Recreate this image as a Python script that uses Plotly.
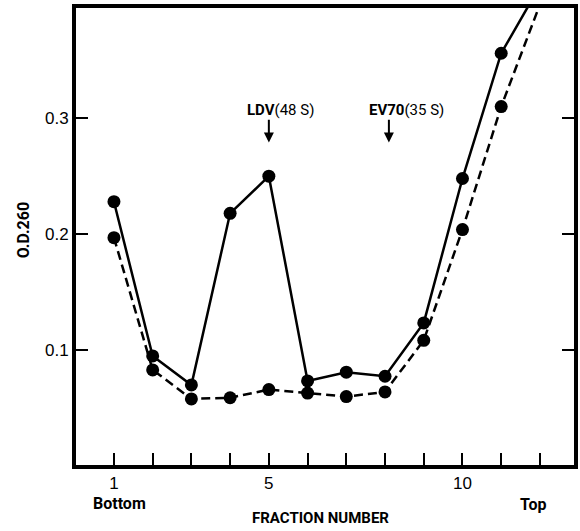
import plotly.graph_objects as go

fractions = [1, 2, 3, 4, 5, 6, 7, 8, 9, 10, 11, 12]
od_solid = [0.228, 0.095, 0.070, 0.218, 0.250, 0.0735, 0.081, 0.0775, 0.1235, 0.248, 0.356, 0.414]
od_dashed = [0.197, 0.083, 0.058, 0.059, 0.066, 0.063, 0.060, 0.064, 0.1085, 0.204, 0.310, 0.398]

tick_vals = [1, 2, 3, 4, 5, 6, 7, 8, 9, 10, 11, 12]
tick_text = ["1", "", "", "", "5", "", "", "", "", "10", "", ""]
y_ticks = [0.1, 0.2, 0.3]
y_tick_text = ["0.1", "0.2", "0.3"]

COND = "Roboto, Liberation Sans Narrow, DejaVu Sans Condensed, sans-serif"
NORM = "Liberation Sans, Arial, sans-serif"

msize = [13] * 11 + [0]

fig = go.Figure()
fig.add_trace(go.Scatter(
    x=fractions, y=od_dashed, mode="lines+markers",
    line=dict(color="black", width=2.5, dash="9px,5px"),
    marker=dict(color="black", size=msize, opacity=1, line=dict(width=0)),
    cliponaxis=True, showlegend=False,
))
fig.add_trace(go.Scatter(
    x=fractions, y=od_solid, mode="lines+markers",
    line=dict(color="black", width=2.5),
    marker=dict(color="black", size=msize, opacity=1, line=dict(width=0)),
    cliponaxis=True, showlegend=False,
))

fig.update_layout(
    width=580, height=531,
    margin=dict(l=76, r=6, t=8, b=66, autoexpand=False),
    paper_bgcolor="white", plot_bgcolor="white",
    font=dict(family=NORM, color="black"),
    xaxis=dict(
        range=[0.02, 12.88], tickvals=tick_vals, ticktext=tick_text,
        ticks="inside", ticklen=12, tickwidth=2, tickcolor="black",
        showline=True, linewidth=4, linecolor="black", mirror=True,
        showgrid=False, zeroline=False, automargin=False,
        tickfont=dict(family=NORM, size=17),
    ),
    yaxis=dict(
        range=[0.001, 0.395], tickvals=y_ticks, ticktext=y_tick_text,
        ticks="inside", ticklen=12, tickwidth=2, tickcolor="black",
        showline=True, linewidth=4, linecolor="black", mirror="ticks",
        showgrid=False, zeroline=False, automargin=False,
        tickfont=dict(family=NORM, size=17),
    ),
)

def label(x, y, text, size, **kw):
    fig.add_annotation(x=x, y=y, xref="paper", yref="paper", text=text,
                       xanchor="center", yanchor="middle", showarrow=False,
                       font=dict(family=COND, size=size, color="black"), **kw)

label(0.49, -0.116, "<b>FRACTION NUMBER</b>", 15)
label(-0.106, 0.514, "<b>O.D.260</b>", 16, textangle=-90)
label(0.088, -0.085, "<b>Bottom</b>", 16)
label(0.918, -0.087, "<b>Top</b>", 16)

fig.add_annotation(x=5.3, y=0.307, xref="x", yref="y", xanchor="center", yanchor="middle",
                   text="<b>LDV</b>(48 S)", showarrow=False,
                   font=dict(family=COND, size=15, color="black"))
fig.add_annotation(x=8.55, y=0.307, xref="x", yref="y", xanchor="center", yanchor="middle",
                   text="<b>EV70</b>(35 S)", showarrow=False,
                   font=dict(family=COND, size=15, color="black"))
for ax_x in [5.0, 8.1]:
    fig.add_annotation(x=ax_x, y=0.279, xref="x", yref="y", ax=ax_x, ay=0.300,
                       axref="x", ayref="y", text="", showarrow=True,
                       arrowhead=2, arrowsize=1, arrowwidth=2, arrowcolor="black")

fig.write_html("out.html", config={"displayModeBar": False},
               post_script="document.body.style.margin='0';document.body.style.overflow='hidden';")
